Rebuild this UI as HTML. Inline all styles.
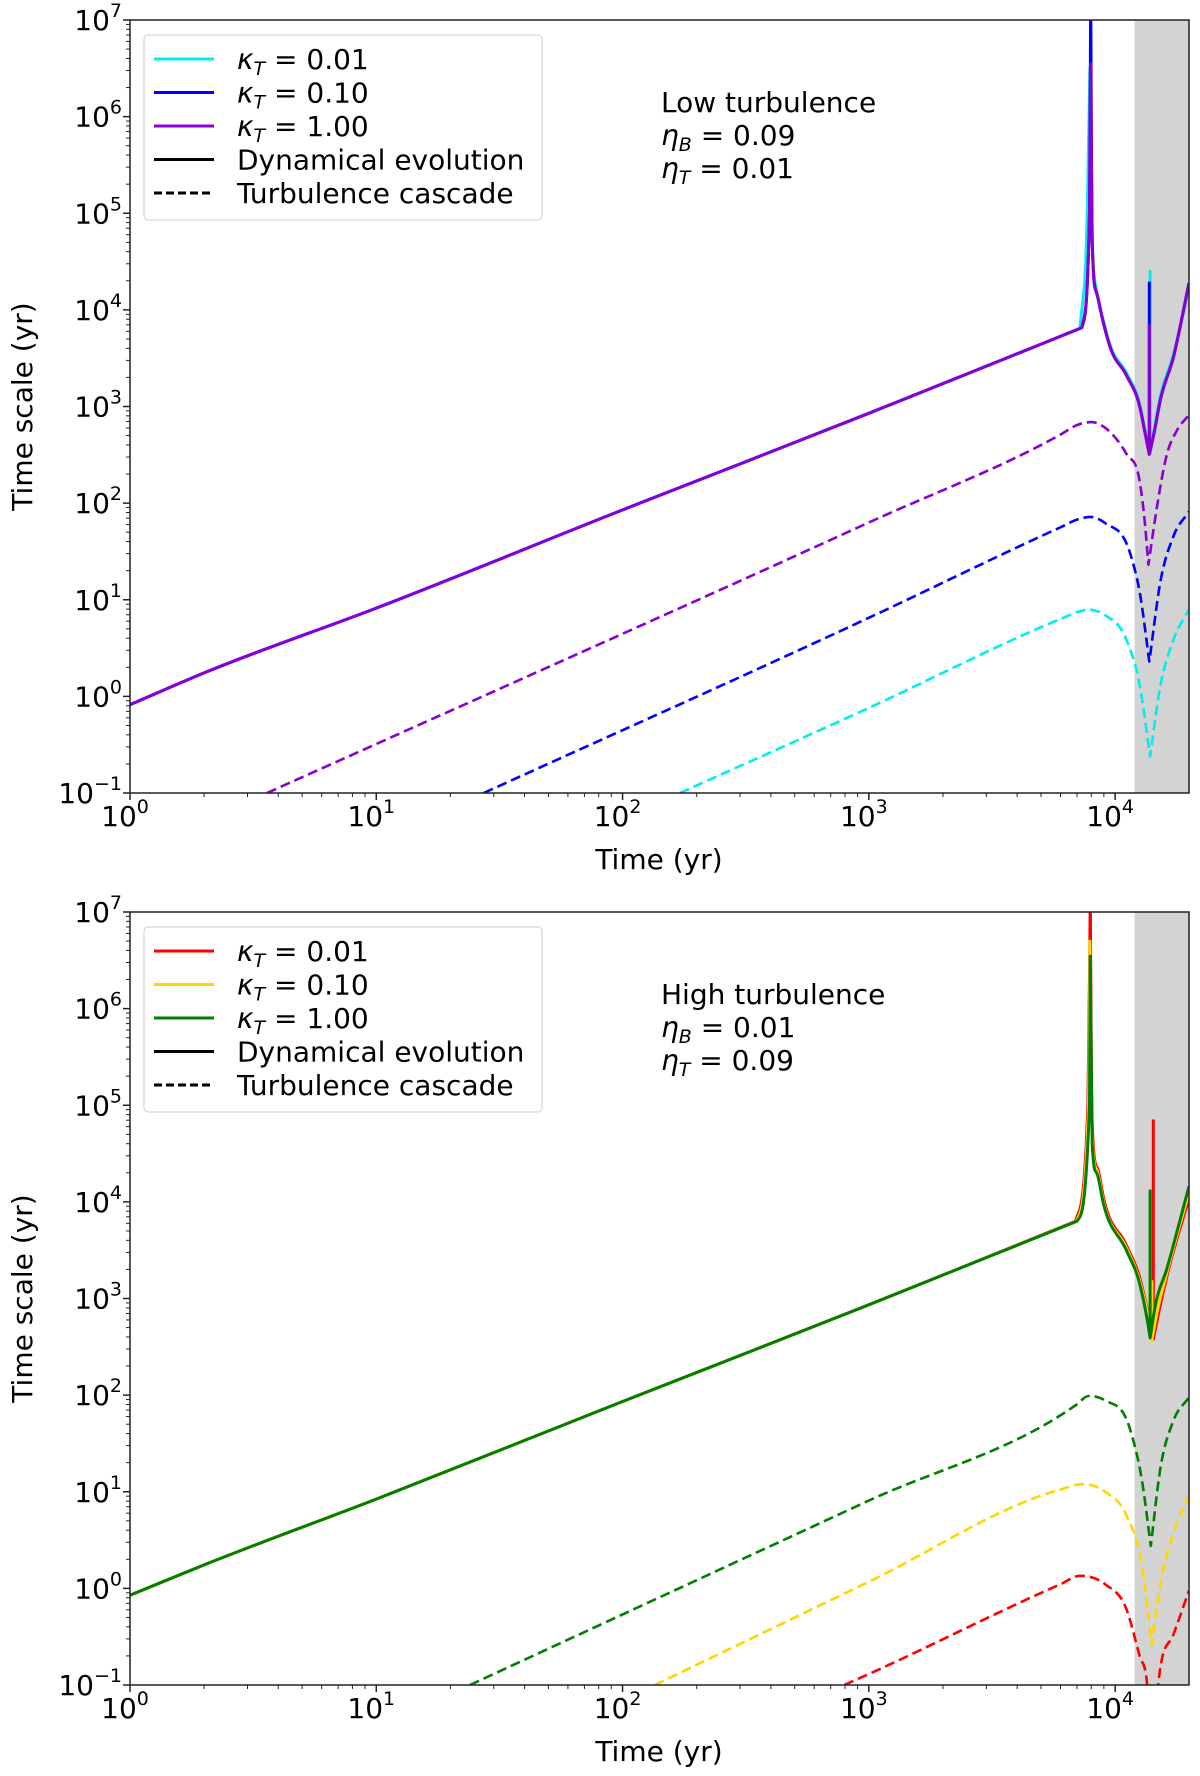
<!DOCTYPE html>
<html><head><meta charset="utf-8"><style>
html,body{margin:0;padding:0;background:#fff;}
svg{display:block;font-family:"DejaVu Sans","Liberation Sans",sans-serif;}
</style></head><body>
<svg id="fig" width="1200" height="1776" viewBox="0 0 1200 1776" xmlns="http://www.w3.org/2000/svg"></svg>
<script>
// ---- data (time in yr, time scale in yr) ----
const xTickExps = [0, 1, 2, 3, 4];
const yTickExps = [-1, 0, 1, 2, 3, 4, 5, 6, 7];
const shadeStart = 12000;

// Top panel (low turbulence)
const topSolidCyanT = [1, 2, 10, 100, 1000, 7200, 7700, 7900, 7960, 8070, 8410, 8950, 9550, 11140, 12620, 13240, 13870, 13870, 13870, 14450, 15240, 17220, 19950];
const topSolidCyanV = [0.82, 1.75, 8.2, 85, 850, 6400, 1e5, 3.2e6, 3e5, 5.5e4, 1.6e4, 7800, 4300, 2200, 1020, 560, 330, 25000, 330, 600, 1250, 3400, 17000];
const topSolidBlueT = [1, 2, 10, 100, 1000, 7330, 7870, 7960, 8020, 8070, 8410, 8950, 9550, 11140, 12620, 13240, 13770, 13770, 13770, 14450, 15240, 17220, 19950];
const topSolidBlueV = [0.82, 1.75, 8.2, 85, 850, 6560, 1e5, 2e7, 3.2e5, 5.2e4, 1.5e4, 7400, 4100, 2080, 970, 530, 320, 19000, 320, 560, 1150, 3200, 19000];
const topSolidPurpleT = [1, 2, 10, 100, 1000, 7330, 7870, 7960, 8020, 8070, 8410, 8950, 9550, 11140, 12620, 13240, 13770, 13770, 13770, 14450, 15240, 17220, 19950];
const topSolidPurpleV = [0.82, 1.75, 8.2, 85, 850, 6560, 1e5, 3.5e6, 3.2e5, 5.2e4, 1.5e4, 7400, 4100, 2080, 970, 530, 320, 6900, 320, 560, 1150, 3200, 19000];

const topDashPurpleT = [3.6, 1000, 5980, 7080, 8035, 9120, 11140, 12620, 13240, 13650, 14760, 16220, 17780, 19950];
const topDashPurpleV = [0.1, 63, 510, 650, 690, 600, 320, 160, 59, 23, 89, 320, 560, 820];
const topDashBlueT = [27.3, 1000, 5980, 7080, 7925, 9120, 11510, 12620, 13770, 15240, 17220, 19950];
const topDashBlueV = [0.1, 6.5, 56, 68, 72, 62, 30, 11.5, 2.3, 15, 45, 82];
const topDashCyanT = [171, 1000, 5980, 7080, 7800, 9120, 11140, 12620, 13870, 15240, 17220, 19950];
const topDashCyanV = [0.1, 0.76, 6.3, 7.5, 7.9, 6.9, 3.8, 1.26, 0.24, 1.26, 3.8, 8.0];

// Bottom panel (high turbulence)
const botSolidRedT = [1, 2, 10, 100, 1000, 6900, 7750, 7930, 8000, 8120, 8500, 8970, 11140, 12620, 13600, 14290, 14290, 14290, 15000, 16220, 19950];
const botSolidRedV = [0.85, 1.75, 8.4, 86, 860, 6300, 1e5, 1.5e7, 3e5, 4.5e4, 2.2e4, 11000, 3500, 1600, 700, 380, 69000, 380, 700, 1700, 11000];
const botSolidYellowT = [1, 2, 10, 100, 1000, 6950, 7800, 7900, 7970, 8090, 8450, 8970, 11140, 12620, 13600, 14100, 14100, 14100, 14800, 16220, 19950];
const botSolidYellowV = [0.85, 1.75, 8.4, 86, 860, 6300, 1e5, 5e6, 3e5, 4.2e4, 2.1e4, 10000, 3300, 1480, 650, 370, 1500, 370, 720, 1850, 12500];
const botSolidGreenT = [1, 2, 10, 100, 1000, 6980, 7870, 7925, 8000, 8070, 8410, 8970, 11140, 12620, 13500, 13870, 13870, 13870, 14500, 16220, 19950];
const botSolidGreenV = [0.85, 1.75, 8.4, 86, 860, 6300, 1e5, 3.5e6, 3e5, 4e4, 2e4, 9500, 3100, 1380, 600, 390, 13000, 390, 800, 2040, 14500];

const botDashGreenT = [24, 1000, 6980, 7800, 9120, 11510, 12880, 13960, 15240, 17220, 19950];
const botDashGreenV = [0.1, 8.1, 80, 98, 88, 44, 12.6, 2.75, 17, 54, 95];
const botDashYellowT = [135, 1000, 5980, 7400, 9120, 11140, 12880, 14060, 15240, 17220, 19950];
const botDashYellowV = [0.1, 1.17, 10.5, 12, 10, 5.6, 1.66, 0.26, 1.1, 3.7, 9.2];
const botDashRedT = [794, 1000, 5980, 7200, 9120, 11140, 12620, 13650, 14060, 14960, 17220, 19950];
const botDashRedV = [0.1, 0.13, 1.1, 1.35, 1.1, 0.6, 0.195, 0.07, 0.01, 0.1, 0.33, 0.95];

// ---- layout ----
const NS = "http://www.w3.org/2000/svg";
const svg = document.getElementById("fig");
const X0 = 130, X1 = 1189;
const XMINL = 0, XMAXL = Math.log10(19950);
const FS = 28, SFS = 19;
function mk(tag, attrs, parent) {
  const e = document.createElementNS(NS, tag);
  for (const k in attrs) e.setAttribute(k, attrs[k]);
  (parent || svg).appendChild(e);
  return e;
}
function xs(t) { return X0 + (Math.log10(t) - XMINL) / (XMAXL - XMINL) * (X1 - X0); }

function monoPath(P) {
  const n = P.length;
  let d = "";
  if (n < 2) return d;
  if (n === 2) return " L" + P[1][0].toFixed(1) + " " + P[1][1].toFixed(1);
  const dx = [], s = [];
  for (let i = 0; i < n - 1; i++) { dx.push(P[i + 1][0] - P[i][0]); s.push((P[i + 1][1] - P[i][1]) / dx[i]); }
  const m = [s[0]];
  for (let i = 1; i < n - 1; i++) {
    if (s[i - 1] * s[i] <= 0) m.push(0);
    else m.push((dx[i - 1] * s[i] + dx[i] * s[i - 1]) / (dx[i - 1] + dx[i]));
  }
  m.push(s[n - 2]);
  for (let i = 0; i < n - 1; i++) {
    if (s[i] === 0) { m[i] = 0; m[i + 1] = 0; continue; }
    const a = m[i] / s[i], b = m[i + 1] / s[i], h = a * a + b * b;
    if (h > 9) { const t = 3 / Math.sqrt(h); m[i] = t * a * s[i]; m[i + 1] = t * b * s[i]; }
  }
  for (let i = 0; i < n - 1; i++) {
    const h = dx[i] / 3;
    d += " C" + (P[i][0] + h).toFixed(1) + " " + (P[i][1] + m[i] * h).toFixed(1) + " " +
      (P[i + 1][0] - h).toFixed(1) + " " + (P[i + 1][1] - m[i + 1] * h).toFixed(1) + " " +
      P[i + 1][0].toFixed(1) + " " + P[i + 1][1].toFixed(1);
  }
  return d;
}
function seriesPath(T, V, ys) {
  const pts = T.map((t, i) => [xs(t), ys(V[i])]);
  let d = "M" + pts[0][0].toFixed(1) + " " + pts[0][1].toFixed(1);
  let seg = [pts[0]];
  const ang = (a, b) => Math.atan2(b[1] - a[1], b[0] - a[0]);
  for (let i = 1; i < pts.length; i++) {
    if (Math.abs(pts[i][0] - pts[i - 1][0]) < 0.01) {
      d += monoPath(seg);
      d += " L" + pts[i][0].toFixed(1) + " " + pts[i][1].toFixed(1);
      seg = [pts[i]];
      continue;
    }
    seg.push(pts[i]);
    // break spline at sharp corners
    if (i < pts.length - 1 && Math.abs(pts[i + 1][0] - pts[i][0]) >= 0.01) {
      const a1 = ang(pts[i - 1], pts[i]), a2 = ang(pts[i], pts[i + 1]);
      if (Math.abs(a2 - a1) > 0.9) { d += monoPath(seg); seg = [pts[i]]; }
    }
  }
  d += monoPath(seg);
  return d;
}

function panel(opts) {
  const Y0 = opts.top, Y1 = opts.top + 773;
  const ys = v => Y1 - (Math.log10(v) + 1) / 8 * (Y1 - Y0);
  const g = mk("g", {});
  
  
  const cid = "clip" + opts.top;
  const cp = mk("clipPath", {id: cid}, g);
  mk("rect", {x: X0, y: Y0, width: X1 - X0, height: Y1 - Y0}, cp);
  const sh = mk("rect", {x: xs(shadeStart), y: Y0, width: X1 - xs(shadeStart), height: Y1 - Y0, fill: "#d3d3d3"}, g);
  
  
  const sg = mk("g", {"clip-path": "url(#" + cid + ")"}, g);
  opts.series.forEach(s => {
    const p = mk("path", {d: seriesPath(s.t, s.v, ys), fill: "none", stroke: s.color, "stroke-width": s.dash ? 2.6 : 3, "stroke-linejoin": "round"}, sg);
    if (s.dash) p.setAttribute("stroke-dasharray", "10 5");
    
    
  });
  const fr = mk("rect", {x: X0, y: Y0, width: X1 - X0, height: Y1 - Y0, fill: "none", stroke: "#222", "stroke-width": 1.5}, g);
  
  
  const xt = mk("g", {}, g);
  
  
  for (let e = 0; e <= 4; e++) for (let m = 1; m <= 9; m++) {
    const t = m * Math.pow(10, e);
    if (t > 19950) continue;
    const x = xs(t);
    mk("line", {x1: x, x2: x, y1: Y1, y2: Y1 + (m === 1 ? 7 : 4), stroke: "#222", "stroke-width": m === 1 ? 1.5 : 1}, xt);
  }
  xTickExps.forEach(e => {
    const tx = mk("text", {x: xs(Math.pow(10, e)) - 5, y: Y1 + 33, "font-size": FS, "text-anchor": "middle"}, xt);
    tx.innerHTML = '10<tspan dy="-13" font-size="' + SFS + '">' + e + '</tspan>';
    
    
  });
  const xl = mk("text", {x: 659, y: Y1 + 76, "font-size": FS, "text-anchor": "middle"}, xt);
  xl.textContent = "Time (yr)";
  
  
  const yt = mk("g", {}, g);
  
  
  for (let e = -1; e <= 6; e++) for (let m = 1; m <= 9; m++) {
    const v = m * Math.pow(10, e);
    mk("line", {x1: X0, x2: X0 - (m === 1 ? 7 : 4), y1: ys(v), y2: ys(v), stroke: "#222", "stroke-width": m === 1 ? 1.5 : 1}, yt);
  }
  mk("line", {x1: X0, x2: X0 - 7, y1: Y0, y2: Y0, stroke: "#222", "stroke-width": 1.5}, yt);
  yTickExps.forEach(e => {
    const tx = mk("text", {x: 122, y: ys(Math.pow(10, e)) + 10, "font-size": FS, "text-anchor": "end"}, yt);
    tx.innerHTML = '10<tspan dy="-13" font-size="' + SFS + '">' + (e < 0 ? '\u2212' + (-e) : e) + '</tspan>';
    
    
  });
  const yl = mk("text", {x: 32, y: (Y0 + Y1) / 2, "font-size": FS, "text-anchor": "middle", transform: "rotate(-90 32 " + (Y0 + Y1) / 2 + ")"}, yt);
  yl.textContent = "Time scale (yr)";
  
  
  const off = Y0 - 20;
  const lg = mk("g", {}, g);
  
  
  mk("rect", {x: 144, y: 35 + off, width: 398, height: 185, rx: 4, fill: "#fff", "fill-opacity": 0.85, stroke: "#ccc", "stroke-width": 1}, lg);
  opts.legend.forEach((en, i) => {
    const cy = 59 + i * 33.5 + off;
    const ln = mk("line", {x1: 154, x2: 214, y1: cy, y2: cy, stroke: en.color, "stroke-width": 3}, lg);
    if (en.dash) ln.setAttribute("stroke-dasharray", "8 4");
    const tx = mk("text", {x: 237, y: cy + 10, "font-size": FS}, lg);
    tx.innerHTML = en.html;
    
    
  });
  const an = mk("g", {}, g);
  
  
  opts.note.forEach((h, i) => {
    const tx = mk("text", {x: 661, y: [112, 145, 178][i] + off, "font-size": FS}, an);
    tx.innerHTML = h;
  });
}

const kap = v => '<tspan font-style="italic">κ</tspan><tspan dy="6" font-size="' + SFS + '" font-style="italic">T</tspan><tspan dy="-6"> = ' + v + '</tspan>';
const eta = (s, v) => '<tspan font-style="italic">η</tspan><tspan dy="6" font-size="' + SFS + '" font-style="italic">' + s + '</tspan><tspan dy="-6"> = ' + v + '</tspan>';

panel({
  top: 20, name: "top-panel-low-turbulence",
  series: [
    {t: topSolidCyanT, v: topSolidCyanV, color: "#00eeee", name: "solid-kappa-0.01"},
    {t: topSolidBlueT, v: topSolidBlueV, color: "#0000ff", name: "solid-kappa-0.10"},
    {t: topSolidPurpleT, v: topSolidPurpleV, color: "#8a00d4", name: "solid-kappa-1.00"},
    {t: topDashPurpleT, v: topDashPurpleV, color: "#8a00d4", dash: true, name: "dashed-kappa-1.00"},
    {t: topDashBlueT, v: topDashBlueV, color: "#0000ff", dash: true, name: "dashed-kappa-0.10"},
    {t: topDashCyanT, v: topDashCyanV, color: "#00eeee", dash: true, name: "dashed-kappa-0.01"}
  ],
  legend: [
    {color: "#00eeee", html: kap("0.01")},
    {color: "#0000ff", html: kap("0.10")},
    {color: "#8a00d4", html: kap("1.00")},
    {color: "#000", html: "Dynamical evolution"},
    {color: "#000", dash: true, html: "Turbulence cascade"}
  ],
  note: ["Low turbulence", eta("B", "0.09"), eta("T", "0.01")]
});
panel({
  top: 912, name: "bottom-panel-high-turbulence",
  series: [
    {t: botSolidRedT, v: botSolidRedV, color: "#ff0000", name: "solid-kappa-0.01"},
    {t: botSolidYellowT, v: botSolidYellowV, color: "#ffd700", name: "solid-kappa-0.10"},
    {t: botSolidGreenT, v: botSolidGreenV, color: "#007f00", name: "solid-kappa-1.00"},
    {t: botDashGreenT, v: botDashGreenV, color: "#007f00", dash: true, name: "dashed-kappa-1.00"},
    {t: botDashYellowT, v: botDashYellowV, color: "#ffd700", dash: true, name: "dashed-kappa-0.10"},
    {t: botDashRedT, v: botDashRedV, color: "#ff0000", dash: true, name: "dashed-kappa-0.01"}
  ],
  legend: [
    {color: "#ff0000", html: kap("0.01")},
    {color: "#ffd700", html: kap("0.10")},
    {color: "#007f00", html: kap("1.00")},
    {color: "#000", html: "Dynamical evolution"},
    {color: "#000", dash: true, html: "Turbulence cascade"}
  ],
  note: ["High turbulence", eta("B", "0.01"), eta("T", "0.09")]
});
</script>
</body></html>
